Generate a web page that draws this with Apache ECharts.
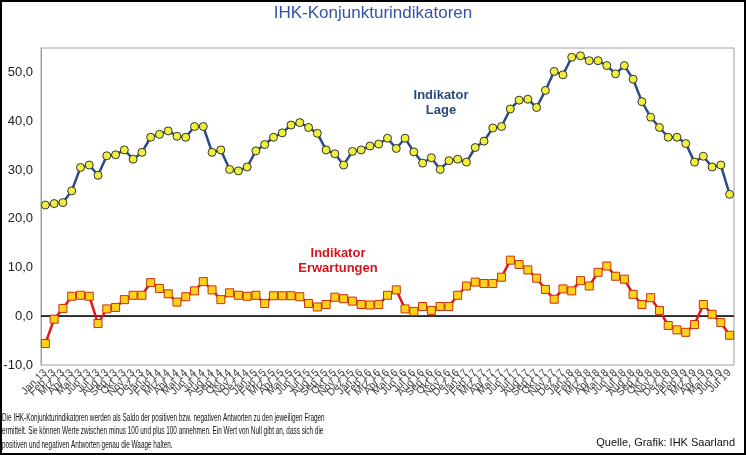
<!DOCTYPE html>
<html>
<head>
<meta charset="utf-8">
<script src="https://cdn.jsdelivr.net/npm/echarts@6/dist/echarts.min.js"></script>
<style>
html,body{margin:0;padding:0;background:#fff;}
#c{width:746px;height:455px;}
</style>
</head>
<body>
<div id="c"></div>
<script>
const monthNames = ['Jan','Feb','Mrz','Apr','Mai','Jun','Jul','Aug','Sep','Okt','Nov','Dez'];
const years = ['13','14','15','16','17','18','19'];
const lastMonthCount = 7; // Jan 19 .. Jul 19

const lage = [
  22.8, 23.1, 23.3, 25.7, 30.5, 31.0, 28.9, 32.9, 33.1, 34.1,
  32.2, 33.6, 36.7, 37.3, 38.0, 36.9, 36.7, 38.9, 38.9, 33.6,
  34.1, 30.1, 29.8, 30.6, 33.9, 35.2, 36.7, 37.6, 39.2, 39.7,
  38.7, 37.5, 34.1, 33.3, 31.0, 33.8, 34.1, 34.9, 35.3, 36.5,
  34.4, 36.5, 33.7, 31.4, 32.5, 30.1, 31.9, 32.2, 31.6, 34.6,
  35.9, 38.6, 38.9, 42.5, 44.3, 44.5, 42.8, 46.3, 50.2, 49.5,
  53.1, 53.4, 52.4, 52.4, 51.4, 49.7, 51.4, 48.6, 44.0, 40.8,
  38.7, 36.7, 36.7, 35.4, 31.6, 32.8, 30.6, 31.0, 25.0
];

const erwartungen = [
  -5.6, -0.6, 1.6, 4.1, 4.3, 4.1, -1.5, 1.5, 1.8, 3.4,
  4.3, 4.3, 6.9, 5.7, 4.6, 2.9, 4.0, 5.2, 7.1, 5.4,
  3.4, 4.8, 4.3, 4.1, 4.3, 2.6, 4.2, 4.2, 4.2, 4.0,
  2.6, 1.9, 2.4, 3.9, 3.6, 3.1, 2.4, 2.3, 2.4, 4.3,
  5.4, 1.5, 1.0, 2.0, 1.2, 2.0, 2.0, 4.3, 6.2, 7.0,
  6.7, 6.7, 8.0, 11.5, 10.6, 9.5, 7.8, 5.5, 3.5, 5.6,
  5.2, 7.3, 6.2, 9.0, 10.3, 8.2, 7.6, 4.5, 2.4, 3.8,
  1.2, -1.9, -2.8, -3.3, -1.7, 2.4, 0.4, -1.3, -3.9
];

const yTicks = [-10, 0, 10, 20, 30, 40, 50];

const categories = [];
years.forEach((y, yi) => {
  const n = (yi === years.length - 1) ? lastMonthCount : 12;
  for (let m = 0; m < n; m++) categories.push(monthNames[m] + ' ' + y);
});

const titleText = 'IHK-Konjunkturindikatoren';
const footLines = [
  'Die IHK-Konjunkturindikatoren werden als Saldo der positiven bzw. negativen Antworten zu den jeweiligen Fragen',
  'ermittelt. Sie können Werte zwischen minus 100 und plus 100 annehmen. Ein Wert von Null gibt an, dass sich die',
  'positiven und negativen Antworten genau die Waage halten.'
];
const sourceText = 'Quelle, Grafik: IHK Saarland';

const chart = echarts.init(document.getElementById('c'), null, {renderer: 'canvas'});
chart.setOption({
  animation: false,
  backgroundColor: '#fff',
  grid: {left: 41, right: 12, top: 48, bottom: 90, show: true, borderColor: '#a0a0a0', borderWidth: 1,
         containLabel: false, outerBoundsMode: 'none'},
  xAxis: {
    type: 'category',
    data: categories,
    boundaryGap: true,
    axisLine: {show: true, lineStyle: {color: '#a0a0a0'}},
    axisTick: {show: false},
    axisLabel: {
      interval: 0, rotate: 45, fontSize: 10.5, color: '#444',
      fontFamily: 'Arial, Liberation Sans, sans-serif', margin: 6, hideOverlap: false
    },
    splitLine: {show: false}
  },
  yAxis: {
    type: 'value',
    min: -10, max: 55, interval: 10,
    axisLine: {show: true, lineStyle: {color: '#a0a0a0'}},
    axisTick: {show: false},
    splitLine: {show: false},
    axisLabel: {
      fontSize: 13, color: '#222', margin: 8,
      fontFamily: 'Arial, Liberation Sans, sans-serif',
      formatter: v => yTicks.indexOf(v) >= 0 ? v.toFixed(1).replace('.', ',') : ''
    }
  },
  series: [
    {
      name: 'Indikator Lage',
      type: 'line',
      data: lage,
      symbol: 'circle',
      symbolSize: 8,
      lineStyle: {color: '#2b4a86', width: 2.5},
      itemStyle: {color: '#eef03c', borderColor: '#333', borderWidth: 1},
      z: 3
    },
    {
      name: 'Indikator Erwartungen',
      type: 'line',
      data: erwartungen,
      symbol: 'rect',
      symbolSize: 8,
      lineStyle: {color: '#e3141b', width: 2.5},
      itemStyle: {color: '#ffd21a', borderColor: '#c8300a', borderWidth: 1},
      markLine: {
        silent: true, symbol: 'none', label: {show: false},
        lineStyle: {color: '#000', width: 1.5, type: 'solid'},
        data: [{yAxis: 0}],
        z: 1
      },
      z: 3
    }
  ],
  graphic: [
    {type: 'rect', shape: {x: 1, y: 1, width: 744, height: 453}, style: {fill: null, stroke: '#000', lineWidth: 2}, silent: true},
    {type: 'text', left: 'center', top: 5, style: {text: titleText, fill: '#3553a6', font: '17px Arial, Liberation Sans, sans-serif'}},
    {type: 'text', x: 441, y: 103, style: {text: 'Indikator\nLage', fill: '#2b4a7c', font: 'bold 13px Arial, Liberation Sans, sans-serif', textAlign: 'center', textVerticalAlign: 'middle', lineHeight: 15}},
    {type: 'text', x: 338, y: 261, style: {text: 'Indikator\nErwartungen', fill: '#d8141c', font: 'bold 13px Arial, Liberation Sans, sans-serif', textAlign: 'center', textVerticalAlign: 'middle', lineHeight: 15}},
    {type: 'text', x: 2, y: 411, scaleX: 0.64, style: {text: footLines.join('\n'), fill: '#111', font: '10px Arial, Liberation Sans, sans-serif', lineHeight: 13.5}},
    {type: 'text', x: 735, y: 437, style: {text: sourceText, fill: '#111', font: '11px Arial, Liberation Sans, sans-serif', textAlign: 'right'}}
  ]
});
</script>
</body>
</html>
